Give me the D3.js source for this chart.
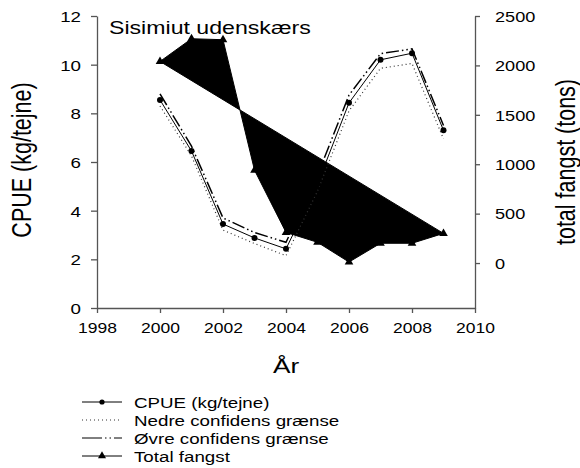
<!DOCTYPE html>
<html>
<head>
<meta charset="utf-8">
<script src="https://cdn.jsdelivr.net/npm/d3@7"></script>
<style>
    body { margin: 0; background: #fff; }
    text { font-family: "Liberation Sans", Arial, sans-serif; fill: #000; }
</style>
</head>
<body>
<script>
    //chart data
    var years = [2000, 2001, 2002, 2003, 2004, 2005, 2006, 2007, 2008, 2009];
    var cpue = [8.55, 6.45, 3.45, 2.88, 2.43, 5.1, 8.43, 10.2, 10.47, 7.3];
    var nedre = [8.3, 6.25, 3.2, 2.65, 2.15, 4.8, 8.1, 9.85, 10.05, 6.95];
    var oevre = [8.8, 6.65, 3.7, 3.1, 2.7, 5.45, 8.75, 10.45, 10.65, 7.5];
    var fangst = [2040, 2270, 2260, 940, 310, 210, 10, 200, 200, 300];

    var xTicks = [1998, 2000, 2002, 2004, 2006, 2008, 2010];
    var leftTicks = [0, 2, 4, 6, 8, 10, 12];
    var rightTicks = [0, 500, 1000, 1500, 2000, 2500];
    var legendLabels = ["CPUE (kg/tejne)", "Nedre confidens grænse", "Øvre confidens grænse", "Total fangst"];

    //text in the picture is stretched sideways
    var sx = 1.25;

    window.onload = setChart();

    function setChart(){

        var width = 580,
            height = 468;

        var svg = d3.select("body")
            .append("svg")
            .attr("width", width)
            .attr("height", height);

        var x = d3.scaleLinear().domain([1998, 2010]).range([97, 475]);
        var y = d3.scaleLinear().domain([0, 12]).range([308, 16]);
        var y2 = d3.scaleLinear().domain([-455, 2500]).range([308, 16]);

        var axisColor = "#555";

        //x axis
        var gx = svg.append("g")
            .attr("transform", "translate(0,308)")
            .call(d3.axisBottom(x).tickValues(xTicks).tickFormat(d3.format("d")).tickSize(5).tickSizeOuter(0));
        styleAxis(gx, axisColor);
        gx.selectAll(".tick text")
            .attr("y", null).attr("dy", null)
            .attr("transform", "translate(0,25) scale(" + sx + ",1)")
            .style("font-size", "14px");

        //left axis
        var gy = svg.append("g")
            .attr("transform", "translate(97,0)")
            .call(d3.axisLeft(y).tickValues(leftTicks).tickSize(6).tickSizeOuter(0));
        styleAxis(gy, axisColor);
        gy.selectAll(".tick text")
            .attr("x", null).attr("dy", "0.36em")
            .attr("transform", "translate(-16,0) scale(" + sx + ",1)")
            .style("font-size", "15px");

        //right axis
        var gy2 = svg.append("g")
            .attr("transform", "translate(475,0)")
            .call(d3.axisRight(y2).tickValues(rightTicks).tickFormat(d3.format("d")).tickSize(5).tickSizeOuter(0));
        styleAxis(gy2, axisColor);
        gy2.selectAll(".tick text")
            .attr("x", null).attr("dy", "0.36em")
            .attr("transform", "translate(20,0) scale(" + sx + ",1)")
            .style("font-size", "14.5px");

        //total fangst as filled polygon
        var fangstLine = d3.line()
            .x(function(d, i){ return x(years[i]); })
            .y(function(d){ return y2(d); });

        svg.append("path")
            .datum(fangst)
            .attr("d", fangstLine(fangst) + "Z")
            .attr("fill", "#000")
            .attr("stroke", "#000")
            .attr("stroke-width", 1);

        svg.selectAll(".tri")
            .data(fangst)
            .enter()
            .append("path")
            .attr("class", "tri")
            .attr("d", d3.symbol().type(d3.symbolTriangle).size(32))
            .attr("transform", function(d, i){ return "translate(" + x(years[i]) + "," + y2(d) + ")"; })
            .attr("fill", "#000");

        //cpue and confidence lines
        var line = d3.line()
            .x(function(d, i){ return x(years[i]); })
            .y(function(d){ return y(d); });

        svg.append("path")
            .attr("d", line(nedre))
            .attr("fill", "none")
            .attr("stroke", "#333")
            .attr("stroke-width", 1.2)
            .attr("stroke-dasharray", "1,3");

        svg.append("path")
            .attr("d", line(oevre))
            .attr("fill", "none")
            .attr("stroke", "#000")
            .attr("stroke-width", 1.5)
            .attr("stroke-dasharray", "13,3,1.5,3,1.5,3");

        svg.append("path")
            .attr("d", line(cpue))
            .attr("fill", "none")
            .attr("stroke", "#000")
            .attr("stroke-width", 1);

        svg.selectAll(".dot")
            .data(cpue)
            .enter()
            .append("circle")
            .attr("class", "dot")
            .attr("cx", function(d, i){ return x(years[i]); })
            .attr("cy", function(d){ return y(d); })
            .attr("r", 3)
            .attr("fill", "#000");

        //titles
        addText(svg, "Sisimiut udenskærs", 109, 34, 18.5, "start", 0);
        addText(svg, "År", 286, 373, 21, "middle", 0);
        addText(svg, "CPUE (kg/tejne)", 31, 160, 21.5, "middle", -90);
        addText(svg, "total fangst (tons)", 575, 162, 21.5, "middle", -90);

        //legend
        var legend = svg.append("g");
        legendLabels.forEach(function(label, i){
            var ly = 402 + i * 18;
            var seg = legend.append("line")
                .attr("x1", 82).attr("x2", 122)
                .attr("y1", ly).attr("y2", ly)
                .attr("stroke", "#000")
                .attr("stroke-width", i == 1 ? 1.2 : 1);
            if (i == 1) seg.attr("stroke", "#333").attr("stroke-dasharray", "1,3");
            if (i == 2) seg.attr("stroke-dasharray", "20,3,1.5,3,1.5,3,10");
            if (i == 0) legend.append("circle").attr("cx", 102).attr("cy", ly).attr("r", 2.6).attr("fill", "#000");
            if (i == 3) legend.append("path")
                .attr("d", d3.symbol().type(d3.symbolTriangle).size(28))
                .attr("transform", "translate(102," + ly + ")")
                .attr("fill", "#000");
            addText(legend, label, 134, ly + 5.5, 15, "start", 0);
        });
    }; //end of setChart()

    function styleAxis(g, color){
        g.select(".domain").attr("stroke", color).attr("stroke-width", 1.3);
        g.selectAll(".tick line").attr("stroke", color).attr("stroke-width", 1.3);
        g.selectAll(".tick text").attr("fill", "#000").style("font-family", "'Liberation Sans', Arial, sans-serif");
    };

    function addText(parent, str, tx, ty, size, anchor, rot){
        parent.append("text")
            .attr("transform", "translate(" + tx + "," + ty + ") scale(" + sx + ",1) rotate(" + rot + ")")
            .attr("text-anchor", anchor)
            .style("font-size", size + "px")
            .text(str);
    };
</script>
</body>
</html>
